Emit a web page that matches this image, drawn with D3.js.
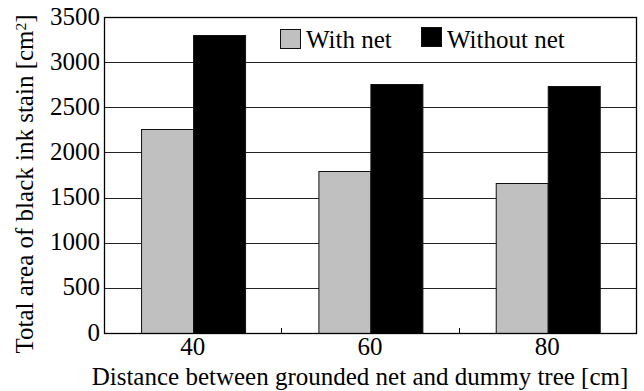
<!DOCTYPE html>
<html>
<head>
<meta charset="utf-8">
<script src="https://cdn.jsdelivr.net/npm/d3@7"></script>
<style>
  html, body { margin: 0; padding: 0; background: #fff; }
  svg { display: block; }
</style>
</head>
<body>
<svg id="chart" width="644" height="391"></svg>
<script>
// Distance between the grounded net and the dummy tree [cm]
const categories = ["40", "60", "80"];
const seriesNames = ["With net", "Without net"];
// Total area of black ink stain [cm²]
const withNet = [2260, 1795, 1665];
const withoutNet = [3305, 2755, 2740];
const yTicks = [0, 500, 1000, 1500, 2000, 2500, 3000, 3500];

const colors = { "With net": "#c0c0c0", "Without net": "#000000" };
const values = { "With net": withNet, "Without net": withoutNet };

const svg = d3.select("#chart");
const plot = { left: 104, right: 636, top: 17, bottom: 333 };
const fontSize = 25;

const x0 = d3.scaleBand()
  .domain(categories)
  .range([plot.left, plot.right])
  .paddingInner(0.418)
  .paddingOuter(0.209);

const x1 = d3.scaleBand()
  .domain(seriesNames)
  .range([0, x0.bandwidth()])
  .padding(0);

const y = d3.scaleLinear()
  .domain([0, 3500])
  .range([plot.bottom, plot.top]);

// horizontal gridlines
svg.append("g")
  .selectAll("line")
  .data(yTicks)
  .join("line")
  .attr("x1", plot.left)
  .attr("x2", plot.right)
  .attr("y1", d => Math.round(y(d)) + 0.5)
  .attr("y2", d => Math.round(y(d)) + 0.5)
  .attr("stroke", "#222")
  .attr("stroke-width", 1);

// bars
const rows = categories.map((c, i) => ({ cat: c, vals: seriesNames.map(s => ({ s, v: values[s][i] })) }));
svg.append("g")
  .selectAll("g")
  .data(rows)
  .join("g")
  .attr("transform", d => `translate(${x0(d.cat)},0)`)
  .selectAll("rect")
  .data(d => d.vals)
  .join("rect")
  .attr("x", d => Math.round(x1(d.s)) + 0.5)
  .attr("width", Math.round(x1.bandwidth()))
  .attr("y", d => Math.round(y(d.v)) + 0.5)
  .attr("height", d => Math.round(y(0)) - Math.round(y(d.v)))
  .attr("fill", d => colors[d.s])
  .attr("stroke", "#111")
  .attr("stroke-width", 1);

// plot frame
svg.append("rect")
  .attr("x", plot.left + 0.5)
  .attr("y", plot.top + 0.5)
  .attr("width", plot.right - plot.left)
  .attr("height", Math.round(y(0)) - plot.top)
  .attr("fill", "none")
  .attr("stroke", "#000")
  .attr("stroke-width", 1.3);

// x tick marks between categories
const boundaries = categories.slice(1).map(c => x0(c) - x0.step() * x0.paddingInner() / 2);
svg.append("g")
  .selectAll("line")
  .data(boundaries)
  .join("line")
  .attr("x1", d => Math.round(d) + 0.5)
  .attr("x2", d => Math.round(d) + 0.5)
  .attr("y1", Math.round(y(0)))
  .attr("y2", Math.round(y(0)) - 5)
  .attr("stroke", "#000");

const txt = sel => sel
  .style("font-family", '"Liberation Serif"')
  .style("font-size", fontSize + "px")
  .attr("fill", "#000");

// y tick labels
svg.append("g")
  .selectAll("text")
  .data(yTicks)
  .join("text")
  .call(txt)
  .attr("x", plot.left - 4)
  .attr("y", d => y(d))
  .attr("dy", "0.3em")
  .attr("text-anchor", "end")
  .text(d => d);

// x tick labels
svg.append("g")
  .selectAll("text")
  .data(categories)
  .join("text")
  .call(txt)
  .attr("x", d => x0(d) + x0.bandwidth() / 2)
  .attr("y", 355)
  .attr("text-anchor", "middle")
  .text(d => d);

// axis titles
svg.append("text")
  .call(txt)
  .attr("x", 360)
  .attr("y", 385)
  .attr("text-anchor", "middle")
  .text("Distance between grounded net and dummy tree [cm]");

const yTitle = svg.append("text")
  .call(txt)
  .attr("transform", "translate(33,184) rotate(-90)")
  .attr("text-anchor", "middle");
yTitle.append("tspan").text("Total area of black ink stain [cm");
yTitle.append("tspan").attr("dy", "-0.45em").style("font-size", (fontSize * 0.62) + "px").text("2");
yTitle.append("tspan").attr("dy", "0.28em").text("]");

// legend
const legendItems = [
  { s: "With net", x: 280, y: 29 },
  { s: "Without net", x: 421, y: 27 }
];
const lg = svg.append("g")
  .selectAll("g")
  .data(legendItems)
  .join("g");
lg.append("rect")
  .attr("x", d => d.x + 0.5)
  .attr("y", d => d.y + 0.5)
  .attr("width", 20)
  .attr("height", 19)
  .attr("fill", d => colors[d.s])
  .attr("stroke", "#111");
lg.append("text")
  .call(txt)
  .attr("x", d => d.x + 26)
  .attr("y", 48)
  .text(d => d.s);
</script>
</body>
</html>
